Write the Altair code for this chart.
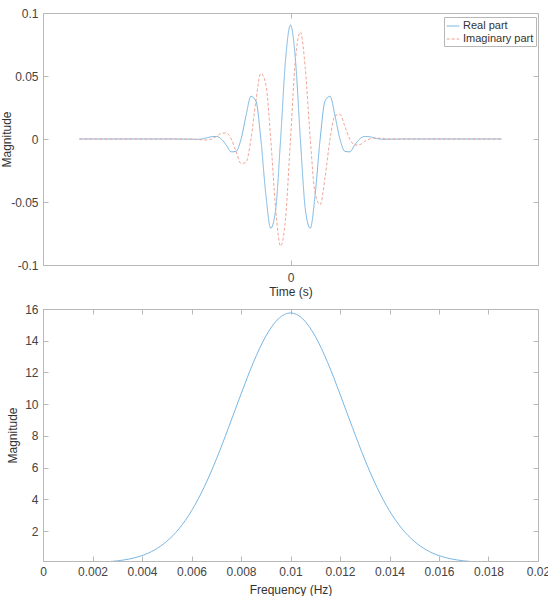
import altair as alt
import pandas as pd

# ---- data ----
time_s = [-534, -300, -250, -237.5, -225, -212.5, -200, -187.5, -175, -162.5, -150,
          -137.5, -125, -112.5, -100, -87.5, -75, -62.5, -50, -37.5, -25, -12.5, 0,
          12.5, 25, 37.5, 50, 62.5, 75, 87.5, 100, 112.5, 125, 137.5, 150, 162.5,
          175, 187.5, 200, 212.5, 225, 237.5, 250, 300, 534]
real_part = [0, 0, -0.0002, -0.0003, 0, 0.0008, 0.0018, 0.0020, 0, -0.0048, -0.0102,
             -0.0098, 0, 0.0185, 0.0339, 0.0302, 0, -0.0436, -0.0708, -0.0557, 0, 0.0630, 0.0904,
             0.0630, 0, -0.0557, -0.0708, -0.0436, 0, 0.0302, 0.0339, 0.0185, 0, -0.0098, -0.0102, -0.0048,
             0, 0.0020, 0.0018, 0.0008, 0, -0.0003, -0.0002, 0, 0]
imag_part = [0, 0, 0, -0.0003, -0.0006, -0.0008, 0, 0.0020, 0.0045, 0.0048, 0,
             -0.0100, -0.0195, -0.0185, 0, 0.0302, 0.0521, 0.0436, 0, -0.0557, -0.0850, -0.0630, 0,
             0.0630, 0.0850, 0.0557, 0, -0.0436, -0.0521, -0.0302, 0, 0.0185, 0.0195, 0.0100, 0, -0.0048,
             -0.0045, -0.0020, 0, 0.0008, 0.0006, 0.0003, 0, 0, 0]
series_names = ["Real part", "Imaginary part"]

freq_hz = [0.0025, 0.003, 0.0035, 0.004, 0.0045, 0.005, 0.0055, 0.006, 0.0065, 0.007,
           0.0075, 0.008, 0.0085, 0.009, 0.0095, 0.01, 0.0105, 0.011, 0.0115, 0.012,
           0.0125, 0.013, 0.0135, 0.014, 0.0145, 0.015, 0.0155, 0.016, 0.0165, 0.017, 0.0175]
spectrum = [0.063, 0.13, 0.25, 0.46, 0.81, 1.36, 2.16, 3.28, 4.74, 6.52,
            8.54, 10.64, 12.63, 14.28, 15.37, 15.75, 15.37, 14.28, 12.63, 10.64,
            8.54, 6.52, 4.74, 3.28, 2.16, 1.36, 0.81, 0.46, 0.25, 0.13, 0.063]

time_ticks = [0]
mag_ticks_top = [-0.1, -0.05, 0, 0.05, 0.1]
freq_ticks = [0, 0.002, 0.004, 0.006, 0.008, 0.01, 0.012, 0.014, 0.016, 0.018, 0.02]
mag_ticks_bottom = [2, 4, 6, 8, 10, 12, 14, 16]

df_top = pd.DataFrame({
    "t": time_s + time_s,
    "v": real_part + imag_part,
    "series": [series_names[0]] * len(time_s) + [series_names[1]] * len(time_s),
})
df_bot = pd.DataFrame({"f": freq_hz, "m": spectrum})

BLUE = "#6aaee0"
RED = "#ef9a8b"
GRID = "#b8b8b8"
W, H = 495, 252

ax_common = dict(offset=-5, tickSize=5, domain=False, grid=False, tickColor=GRID,
                 labelFlush=False,
                 labelFont="Liberation Sans", labelFontSize=12, labelColor="#444444",
                 titleFont="Liberation Sans", titleFontSize=12, titleFontWeight="normal",
                 titleColor="#333333")
neg_expr = "datum.value < 0 ? '-' + format(-datum.value, '~g') : format(datum.value, '~g')"

xs_top = alt.Scale(domain=[-626, 626], nice=False, zero=False)
ys_top = alt.Scale(domain=[-0.1, 0.1], nice=False)

lines = alt.Chart(df_top).mark_line(strokeWidth=0.9, interpolate="monotone").encode(
    x=alt.X("t:Q", scale=xs_top,
            axis=alt.Axis(values=time_ticks, title="Time (s)", orient="bottom",
                          labelPadding=7, titlePadding=3, **ax_common)),
    y=alt.Y("v:Q", scale=ys_top,
            axis=alt.Axis(values=mag_ticks_top, title="Magnitude", orient="left",
                          labelExpr=neg_expr, labelPadding=5, titlePadding=-3,
                          minExtent=32, **ax_common)),
    color=alt.Color("series:N", scale=alt.Scale(domain=series_names, range=[BLUE, RED]),
                    legend=alt.Legend(title=None)),
    strokeDash=alt.StrokeDash("series:N",
                              scale=alt.Scale(domain=series_names, range=[[1, 0], [3, 2]]),
                              legend=alt.Legend(title=None)),
)
mirror_top = alt.Chart(df_top).mark_line(strokeOpacity=0).encode(
    x=alt.X("t:Q", scale=xs_top,
            axis=alt.Axis(values=time_ticks, title="", orient="top", labels=False, **ax_common)),
    y=alt.Y("v:Q", scale=ys_top,
            axis=alt.Axis(values=mag_ticks_top, title="", orient="right", labels=False, **ax_common)),
)
top = alt.layer(lines, mirror_top).resolve_axis(x="independent", y="independent").properties(
    width=W, height=H)

xs_bot = alt.Scale(domain=[0, 0.02], nice=False)
ys_bot = alt.Scale(domain=[0.12, 16], nice=False, zero=False)

curve = alt.Chart(df_bot).mark_line(strokeWidth=0.9, interpolate="monotone", clip=True,
                                    color=BLUE).encode(
    x=alt.X("f:Q", scale=xs_bot,
            axis=alt.Axis(values=freq_ticks, format="~g", title="Frequency (Hz)", orient="bottom",
                          labelPadding=5, titlePadding=7, **ax_common)),
    y=alt.Y("m:Q", scale=ys_bot,
            axis=alt.Axis(values=mag_ticks_bottom, title="Magnitude", orient="left",
                          labelPadding=5, titlePadding=-3, minExtent=32, **ax_common)),
)
mirror_bot = alt.Chart(df_bot).mark_line(strokeOpacity=0, clip=True).encode(
    x=alt.X("f:Q", scale=xs_bot,
            axis=alt.Axis(values=freq_ticks, title="", orient="top", labels=False, **ax_common)),
    y=alt.Y("m:Q", scale=ys_bot,
            axis=alt.Axis(values=mag_ticks_bottom, title="", orient="right", labels=False, **ax_common)),
)
bottom = alt.layer(curve, mirror_bot).resolve_axis(x="independent", y="independent").properties(
    width=W, height=H)

chart = alt.vconcat(top, bottom, spacing=4).properties(
    padding={"left": 0, "top": 6, "right": -3, "bottom": 0}
).configure_view(stroke=GRID, strokeWidth=1).configure_legend(
    orient="none", legendX=401, legendY=4, strokeColor=GRID, fillColor="white",
    padding=2, symbolType="stroke", symbolSize=160, symbolStrokeWidth=1,
    labelFont="Liberation Sans", labelFontSize=11, labelColor="#333333",
    labelOffset=3, rowPadding=1, cornerRadius=0,
)

chart.save("out.html", embed_options={"renderer": "svg", "actions": False})
